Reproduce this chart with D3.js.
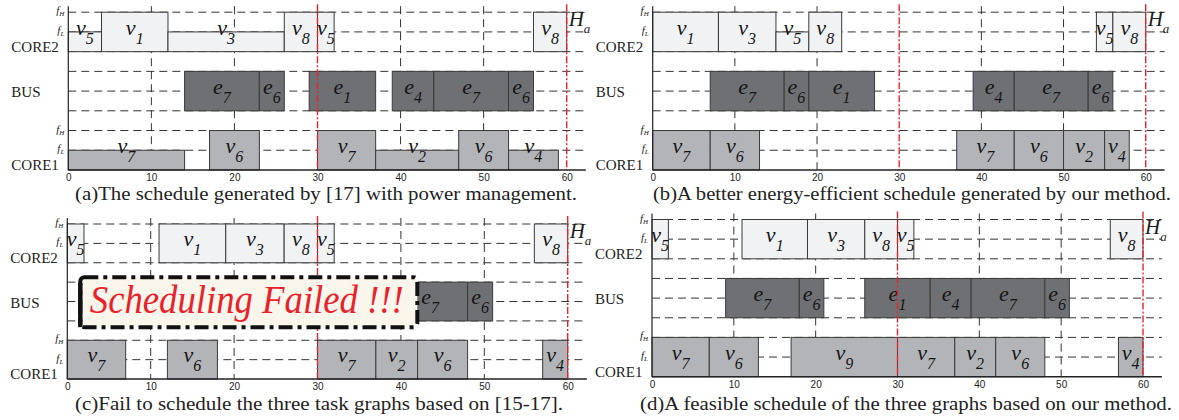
<!DOCTYPE html>
<html>
<head>
<meta charset="utf-8">
<script src="https://cdn.jsdelivr.net/npm/d3@7"></script>
<style>
  body { margin: 0; background: #fff; }
</style>
</head>
<body>
<svg id="chart"></svg>
<script>
var ticks = [0, 10, 20, 30, 40, 50, 60];
var gridTimes = [10, 20, 40, 50];
var deadlines = [30, 60];
var rows = ["CORE2", "BUS", "CORE1"];
var captions = [
    "(a)The schedule generated by [17] with power management.",
    "(b)A better energy-efficient schedule generated by our method.",
    "(c)Fail to schedule the three task graphs based on [15-17].",
    "(d)A feasible schedule of the three graphs based on our method."
];
var failText = "Scheduling Failed !!!";

// [row, task letter, index, start, end, frequency]
var schedA = [
    ["CORE2", "v", "5", 0, 4, "L"], ["CORE2", "v", "1", 4, 12, "H"], ["CORE2", "v", "3", 12, 26, "L"],
    ["CORE2", "v", "8", 26, 30, "H"], ["CORE2", "v", "5", 30, 32, "H"], ["CORE2", "v", "8", 56, 60, "H"],
    ["BUS", "e", "7", 14, 23], ["BUS", "e", "6", 23, 26], ["BUS", "e", "1", 29, 37],
    ["BUS", "e", "4", 39, 44], ["BUS", "e", "7", 44, 53], ["BUS", "e", "6", 53, 56],
    ["CORE1", "v", "7", 0, 14, "L"], ["CORE1", "v", "6", 17, 23, "H"], ["CORE1", "v", "7", 30, 37, "H"],
    ["CORE1", "v", "2", 37, 47, "L"], ["CORE1", "v", "6", 47, 53, "H"], ["CORE1", "v", "4", 53, 59, "L"]
];
var schedB = [
    ["CORE2", "v", "1", 0, 8, "H"], ["CORE2", "v", "3", 8, 15, "H"], ["CORE2", "v", "5", 15, 19, "L"],
    ["CORE2", "v", "8", 19, 23, "H"], ["CORE2", "v", "5", 54, 56, "H"], ["CORE2", "v", "8", 56, 60, "H"],
    ["BUS", "e", "7", 7, 16], ["BUS", "e", "6", 16, 19], ["BUS", "e", "1", 19, 27],
    ["BUS", "e", "4", 39, 44], ["BUS", "e", "7", 44, 53], ["BUS", "e", "6", 53, 56],
    ["CORE1", "v", "7", 0, 7, "H"], ["CORE1", "v", "6", 7, 13, "H"], ["CORE1", "v", "7", 37, 44, "H"],
    ["CORE1", "v", "6", 44, 50, "H"], ["CORE1", "v", "2", 50, 55, "H"], ["CORE1", "v", "4", 55, 58, "H"]
];
var schedC = [
    ["CORE2", "v", "5", 0, 2, "H"], ["CORE2", "v", "1", 11, 19, "H"], ["CORE2", "v", "3", 19, 26, "H"],
    ["CORE2", "v", "8", 26, 30, "H"], ["CORE2", "v", "5", 30, 32, "H"], ["CORE2", "v", "8", 56, 60, "H"],
    ["BUS", "e", "7", 39, 48], ["BUS", "e", "6", 48, 51],
    ["CORE1", "v", "7", 0, 7, "H"], ["CORE1", "v", "6", 12, 18, "H"], ["CORE1", "v", "7", 30, 37, "H"],
    ["CORE1", "v", "2", 37, 42, "H"], ["CORE1", "v", "6", 42, 48, "H"], ["CORE1", "v", "4", 57, 60, "H"]
];
var schedD = [
    ["CORE2", "v", "5", 0, 2, "H"], ["CORE2", "v", "1", 11, 19, "H"], ["CORE2", "v", "3", 19, 26, "H"],
    ["CORE2", "v", "8", 26, 30, "H"], ["CORE2", "v", "5", 30, 32, "H"], ["CORE2", "v", "8", 56, 60, "H"],
    ["BUS", "e", "7", 9, 18], ["BUS", "e", "6", 18, 21], ["BUS", "e", "1", 26, 34],
    ["BUS", "e", "4", 34, 39], ["BUS", "e", "7", 39, 48], ["BUS", "e", "6", 48, 51],
    ["CORE1", "v", "7", 0, 7, "H"], ["CORE1", "v", "6", 7, 13, "H"], ["CORE1", "v", "9", 17, 30, "H"],
    ["CORE1", "v", "7", 30, 37, "H"], ["CORE1", "v", "2", 37, 42, "H"], ["CORE1", "v", "6", 42, 48, "H"],
    ["CORE1", "v", "4", 57, 60, "H"]
];

var W = 1179, H = 420;
var svg = d3.select("#chart").attr("width", W).attr("height", H);

var fills = { CORE2: "#f1f2f4", BUS: "#6f7074", CORE1: "#b3b4b8" };
var baseLevel = { CORE2: 2, BUS: 5, CORE1: 8 };
var serif = "'Liberation Serif', 'Times New Roman', serif";

var panels = [
    { data: schedA, x0: 68.3, x60: 566.7, top: 12.2, step: 19.72, capX: 326, capY: 200, capW: 502 },
    { data: schedB, x0: 652.7, x60: 1145.7, top: 12.2, step: 19.72, capX: 912, capY: 200, capW: 518 },
    { data: schedC, x0: 67.3, x60: 567.7, top: 224, step: 19.38, capX: 319, capY: 410, capW: 488, fail: true },
    { data: schedD, x0: 652, x60: 1143, top: 219.5, step: 19.65, capX: 906, capY: 410, capW: 532 }
];

panels.forEach(function (p, pi) {
    var x = d3.scaleLinear().domain([0, 60]).range([p.x0, p.x60]);
    var y = d3.scaleLinear().domain([0, 8]).range([p.top, p.top + 8 * p.step]);
    var g = svg.append("g");
    var xEnd = x(62.3);

    // horizontal dashed levels
    g.selectAll("line.hgrid")
        .data(d3.range(8))
        .enter()
        .append("line")
        .attr("x1", p.x0).attr("x2", xEnd)
        .attr("y1", function (d) { return y(d); })
        .attr("y2", function (d) { return y(d); })
        .attr("stroke", "#333")
        .attr("stroke-width", 1)
        .attr("stroke-dasharray", "8,5");

    // vertical dashed grid
    g.selectAll("line.vgrid")
        .data(gridTimes)
        .enter()
        .append("line")
        .attr("x1", function (d) { return x(d); })
        .attr("x2", function (d) { return x(d); })
        .attr("y1", y(0) - 6).attr("y2", y(8))
        .attr("stroke", "#333")
        .attr("stroke-width", 1)
        .attr("stroke-dasharray", "8,5");

    // bars
    g.selectAll("rect.task")
        .data(p.data)
        .enter()
        .append("rect")
        .attr("x", function (d) { return x(d[3]); })
        .attr("width", function (d) { return x(d[4]) - x(d[3]); })
        .attr("y", function (d) {
            var b = baseLevel[d[0]];
            if (d[0] == "BUS") return y(3);
            return d[5] == "H" ? y(b - 2) : y(b - 1);
        })
        .attr("height", function (d) {
            var b = baseLevel[d[0]];
            if (d[0] == "BUS") return y(5) - y(3);
            return d[5] == "H" ? y(b) - y(b - 2) : y(b) - y(b - 1);
        })
        .attr("fill", function (d) { return fills[d[0]]; })
        .attr("stroke", "#3a3a3a")
        .attr("stroke-width", 1);

    // bar labels
    var lab = g.selectAll("text.task")
        .data(p.data)
        .enter()
        .append("text")
        .attr("x", function (d) { return x((d[3] + d[4]) / 2); })
        .attr("y", function (d) { return y(baseLevel[d[0]]) - 17; })
        .attr("text-anchor", "middle")
        .attr("font-family", serif)
        .attr("font-style", "italic")
        .attr("fill", "#151515");
    lab.append("tspan").attr("font-size", "22px").text(function (d) { return d[1]; });
    lab.append("tspan").attr("font-size", "16px").attr("dy", 9).text(function (d) { return d[2]; });

    // deadlines
    g.selectAll("line.dead")
        .data(deadlines)
        .enter()
        .append("line")
        .attr("x1", function (d) { return x(d); })
        .attr("x2", function (d) { return x(d); })
        .attr("y1", y(0) - 8).attr("y2", y(8))
        .attr("stroke", "#e3262d")
        .attr("stroke-width", 1.4)
        .attr("stroke-dasharray", "7,2,2,2");

    // axes
    g.append("line")
        .attr("x1", p.x0).attr("x2", p.x0)
        .attr("y1", y(0) - 6).attr("y2", y(8))
        .attr("stroke", "#222").attr("stroke-width", 1.2);
    g.append("line")
        .attr("x1", p.x0).attr("x2", xEnd)
        .attr("y1", y(8)).attr("y2", y(8))
        .attr("stroke", "#222").attr("stroke-width", 1.4);

    var ax = g.append("g")
        .attr("transform", "translate(0," + y(8) + ")")
        .call(d3.axisBottom(x).tickValues(ticks).tickSize(0).tickPadding(4));
    ax.select(".domain").remove();
    ax.selectAll("text")
        .attr("font-family", "'Liberation Sans', Arial, sans-serif")
        .attr("font-size", "10px")
        .attr("fill", "#222");

    // row names
    rows.forEach(function (r) {
        g.append("text")
            .text(r)
            .attr("x", p.x0 - 57)
            .attr("y", r == "BUS" ? y(4) + 6 : y(baseLevel[r]))
            .attr("font-family", serif)
            .attr("font-size", "15px")
            .attr("fill", "#222");
        if (r != "BUS") {
            [["H", 2], ["L", 1]].forEach(function (f) {
                var t = g.append("text")
                    .attr("x", p.x0 - 4)
                    .attr("y", y(baseLevel[r] - f[1]) + 2)
                    .attr("text-anchor", "end")
                    .attr("font-family", serif)
                    .attr("font-style", "italic")
                    .attr("fill", "#222");
                t.append("tspan").attr("font-size", "11px").text("f");
                t.append("tspan").attr("font-size", "7px").attr("dy", 2).text(f[0]);
            });
        }
    });

    // H_a
    var ha = g.append("text")
        .attr("x", x(60) + 2)
        .attr("y", y(0) + 14)
        .attr("font-family", serif)
        .attr("font-style", "italic")
        .attr("fill", "#1e1e1e");
    ha.append("tspan").attr("font-size", "21px").text("H");
    ha.append("tspan").attr("font-size", "13px").attr("dy", 7).text("a");

    // caption
    svg.append("text")
        .text(captions[pi])
        .attr("x", p.capX)
        .attr("y", p.capY)
        .attr("text-anchor", "middle")
        .attr("textLength", p.capW)
        .attr("lengthAdjust", "spacingAndGlyphs")
        .attr("font-family", serif)
        .attr("font-size", "19px")
        .attr("fill", "#222");

    if (p.fail) {
        var bx = p.x0 + 13, by = y(3) - 5, bw = 337, bh = 50;
        g.append("rect")
            .attr("x", bx).attr("y", by)
            .attr("width", bw).attr("height", bh)
            .attr("rx", 4)
            .attr("fill", "#fbf6ec")
            .attr("stroke", "#111")
            .attr("stroke-width", 4)
            .attr("stroke-dasharray", "14,5,4,5");
        g.append("line")
            .attr("x1", bx).attr("x2", bx)
            .attr("y1", by + 6).attr("y2", by + bh)
            .attr("stroke", "#111").attr("stroke-width", 4.5);
        g.append("text")
            .text(failText)
            .attr("x", bx + bw / 2 - 2)
            .attr("y", by + 36)
            .attr("text-anchor", "middle")
            .attr("textLength", 314)
            .attr("lengthAdjust", "spacingAndGlyphs")
            .attr("font-family", serif)
            .attr("font-style", "italic")
            .attr("font-size", "41px")
            .attr("fill", "#e8212b");
    }
});
</script>
</body>
</html>
